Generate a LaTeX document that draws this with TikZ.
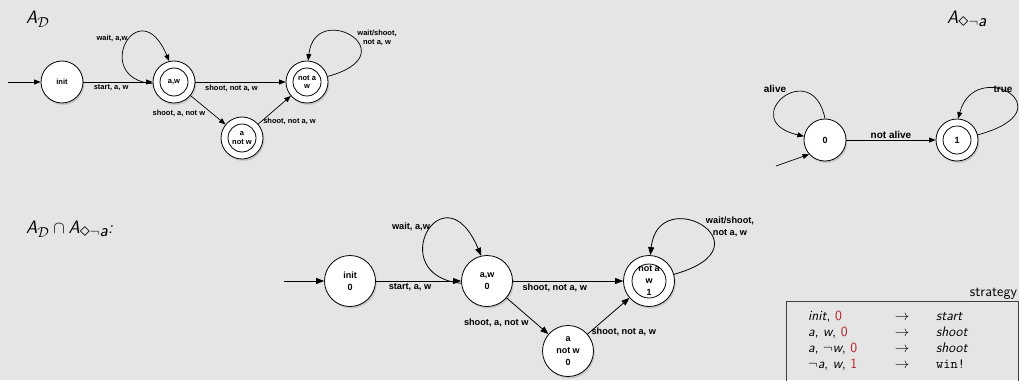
\documentclass[tikz,border=0pt]{standalone}
\usepackage{fontspec}
\newfontfamily\autfont{Liberation Sans}
\usetikzlibrary{arrows.meta, positioning, shadows}
\DeclareMathSizes{18}{18}{14}{10}

\definecolor{slidegray}{RGB}{229,229,229}
\definecolor{numred}{RGB}{178,34,34}

\newcommand{\evdiamond}{\mathord{\scalebox{1.4}{$\scriptstyle\diamond$}}}

\tikzset{
	state/.style={circle, draw, line width=0.8pt, fill=white, inner sep=0pt, align=center,
		drop shadow={shadow xshift=1.3pt, shadow yshift=-2pt, opacity=0.28}},
	small state/.style={state, minimum size=42pt, font=\autfont\bfseries\fontsize{7.5}{8.7}\selectfont},
	big state/.style={state, minimum size=51pt, font=\autfont\bfseries\fontsize{9}{12}\selectfont},
	one state/.style={small state, font=\autfont\bfseries\fontsize{9}{10}\selectfont},
	accept/.style={path picture={\draw[line width=0.8pt] (path picture bounding box.center) circle (#1);}},
	trans/.style={draw, line width=0.7pt, -{Triangle[length=6.5pt, width=5pt]}},
	big trans/.style={draw, line width=0.8pt, -{Triangle[length=8pt, width=6pt]}},
	lbl/.style={font=\autfont\bfseries\fontsize{7.5}{8.7}\selectfont, align=center, inner sep=1.5pt},
	big lbl/.style={font=\autfont\bfseries\fontsize{9.2}{12}\selectfont, align=center, inner sep=1.5pt},
	one lbl/.style={font=\autfont\bfseries\fontsize{10}{11}\selectfont, align=center, inner sep=1.5pt},
	title/.style={font=\sffamily\itshape\fontsize{18}{20}\selectfont, inner sep=0pt},
	strat/.style={font=\sffamily\fontsize{14}{16}\selectfont, inner sep=0pt}
}

\begin{document}
\begin{tikzpicture}[x=1pt, y=-1pt]
	% Slide background:
	\fill[slidegray] (0,0) rectangle (1019,380);
	\useasboundingbox (0,0) rectangle (1019,380);

	% Automaton A_D (top left):
	\node[title, anchor=west] (tD) at (26,19) {A$_{\mathcal{D}}$};
	\node[small state] (init) at (62,82) {init};
	\node[small state, accept=14pt] (aw) at (174,82) {a,w};
	\node[small state, accept=14pt] (na) at (307,82) {not a\\w};
	\node[small state, accept=14pt] (anw) at (242,138) {a\\not w};
	\coordinate (in0) at (8,82);
	\draw[trans] (in0) -- (init);
	\draw[trans] (init) -- (aw) node[lbl, pos=0.4, below=1pt] (l1) {start, a, w};
	\draw[trans] (aw) -- (na) node[lbl, pos=0.4, below=1pt] (l2) {shoot, not a, w};
	\draw[trans] (aw) -- (anw) node[lbl, pos=0.45, below left=-1pt] (l3) {shoot, a, not w};
	\draw[trans] (anw) -- (na) node[lbl, pos=0.1, right] (l4) {shoot, not a, w};
	\draw[trans] (aw.185) .. controls +(-63,-6) and +(-30,-72) .. (aw.103);
	\draw[trans] (na.15) .. controls +(83,-23) and +(7,-62) .. (na.87);
	\node[lbl] (l5) at (112,38) {wait, a,w};
	\node[lbl] (l6) at (377,38) {wait/shoot,\\not a, w};

	% Automaton A_<>~a (top right):
	\node[title, anchor=west] (tA) at (947,19) {A$_{\evdiamond\neg\textsf{\textit{a}}}$};
	\node[one state] (s0) at (825,140) {0};
	\node[one state, accept=14pt] (s1) at (957,140) {1};
	\coordinate (in1) at (776,166);
	\draw[trans] (in1) -- (s0.222);
	\draw[trans] (s0) -- (s1) node[one lbl, midway, above] (l7) {not alive};
	\draw[trans] (s0.90) .. controls +(-13,-64) and +(-69,-16) .. (s0.170);
	\draw[trans] (s1.14) .. controls +(93,-25) and +(17,-63) .. (s1.87);
	\node[one lbl] (l8) at (775,89) {alive};
	\node[one lbl] (l9) at (1003,89) {true};

	% Product automaton:
	\node[title, anchor=west] (tP) at (26,229) {A$_{\mathcal{D}}\cap{}$A$_{\evdiamond\neg\textsf{\textit{a}}}$:};
	\node[big state] (init0) at (350,281) {init\\0};
	\node[big state] (aw0) at (487,281) {a,w\\0};
	\node[big state, accept=17pt] (na1) at (649,281) {not a\\w\\1};
	\node[big state] (anw0) at (568,351) {a\\not w\\0};
	\coordinate (in2) at (284,281);
	\draw[big trans] (in2) -- (init0);
	\draw[big trans] (init0) -- (aw0) node[big lbl, pos=0.4, below=1pt] (m1) {start, a, w};
	\draw[big trans] (aw0) -- (na1) node[big lbl, pos=0.38, below=1pt] (m2) {shoot, not a, w};
	\draw[big trans] (aw0) -- (anw0) node[big lbl, pos=0.55, below left=-1pt] (m3) {shoot, a, not w};
	\draw[big trans] (anw0) -- (na1) node[big lbl, pos=0.05, right] (m4) {shoot, not a, w};
	\draw[big trans] (aw0.185) .. controls +(-79,-8) and +(-38,-90) .. (aw0.103);
	\draw[big trans] (na1.15) .. controls +(100,-28) and +(8,-74) .. (na1.87);
	\node[big lbl] (m5) at (411,227) {wait, a,w};
	\node[big lbl] (m6) at (730,227) {wait/shoot,\\not a, w};

	% Strategy table:
	\node[draw=black!75, line width=0.8pt, minimum width=232pt, minimum height=100pt, anchor=north west, inner sep=0pt] (sbox) at (786,301) {};
	\node[strat, anchor=south east, inner sep=1.5pt, font=\sffamily\fontsize{14.5}{16}\selectfont] (stitle) at (sbox.north east) {strategy};
	\node[strat, anchor=base west] (r1a) at (808,320) {\textit{init}, \textcolor{numred}{0}};
	\node[strat, anchor=base] (r1b) at (902,320) {$\rightarrow$};
	\node[strat, anchor=base west] (r1c) at (936,320) {\textit{start}};
	\node[strat, anchor=base west] (r2a) at (808,336) {\textit{a}, \textit{w}, \textcolor{numred}{0}};
	\node[strat, anchor=base] (r2b) at (902,336) {$\rightarrow$};
	\node[strat, anchor=base west] (r2c) at (936,336) {\textit{shoot}};
	\node[strat, anchor=base west] (r3a) at (808,352) {\textit{a}, $\neg$\textit{w}, \textcolor{numred}{0}};
	\node[strat, anchor=base] (r3b) at (902,352) {$\rightarrow$};
	\node[strat, anchor=base west] (r3c) at (936,352) {\textit{shoot}};
	\node[strat, anchor=base west] (r4a) at (808,368) {$\neg$\textit{a}, \textit{w}, \textcolor{numred}{1}};
	\node[strat, anchor=base] (r4b) at (902,368) {$\rightarrow$};
	\node[strat, anchor=base west] (r4c) at (936,368) {\texttt{win!}};
\end{tikzpicture}
\end{document}
